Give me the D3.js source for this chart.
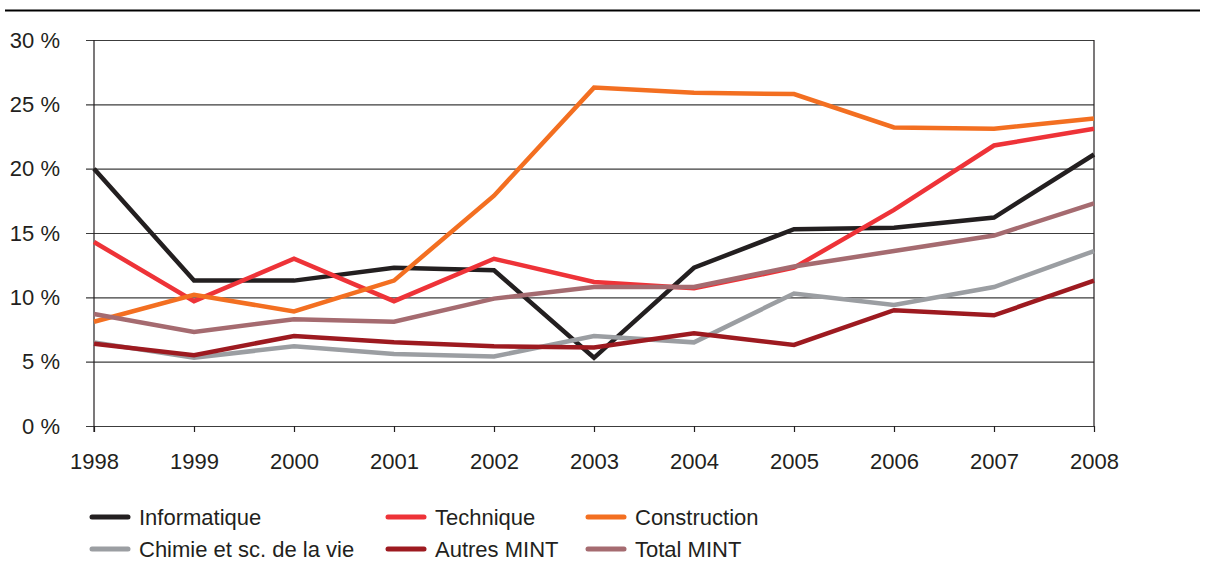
<!DOCTYPE html>
<html>
<head>
<meta charset="utf-8">
<script src="https://cdn.jsdelivr.net/npm/d3@7"></script>
<style>
  body { margin: 0; background: #fff; }
  text { font-family: "Liberation Sans", Arial, sans-serif; fill: #231f20; }
</style>
</head>
<body>
<div id="chart"></div>
<script>
// data (share in %)
const years = [1998, 1999, 2000, 2001, 2002, 2003, 2004, 2005, 2006, 2007, 2008]
const informatique = [20.0, 11.3, 11.3, 12.3, 12.1, 5.3, 12.3, 15.3, 15.4, 16.2, 21.1]
const technique    = [14.3, 9.7, 13.0, 9.7, 13.0, 11.2, 10.7, 12.3, 16.8, 21.8, 23.1]
const construction = [8.1, 10.2, 8.9, 11.3, 17.9, 26.3, 25.9, 25.8, 23.2, 23.1, 23.9]
const chimie       = [6.5, 5.3, 6.2, 5.6, 5.4, 7.0, 6.5, 10.3, 9.4, 10.8, 13.6]
const autres       = [6.4, 5.5, 7.0, 6.5, 6.2, 6.1, 7.2, 6.3, 9.0, 8.6, 11.3]
const total        = [8.7, 7.3, 8.3, 8.1, 9.9, 10.8, 10.8, 12.4, 13.6, 14.8, 17.3]
const yTicks = [0, 5, 10, 15, 20, 25, 30]

const series = [
  { name: "Informatique", values: informatique, color: "#231f20" },
  { name: "Technique", values: technique, color: "#ee3338" },
  { name: "Construction", values: construction, color: "#f36f21" },
  { name: "Chimie et sc. de la vie", values: chimie, color: "#9b9ea2" },
  { name: "Autres MINT", values: autres, color: "#9d1a20" },
  { name: "Total MINT", values: total, color: "#a56b70" }
]

const W = 1211, H = 565
const margin = { top: 40, right: 117, bottom: 139, left: 94 }
const width = W - margin.left - margin.right
const height = H - margin.top - margin.bottom
const fontSize = "22px"

const svg = d3.select("#chart").append("svg")
    .attr("width", W)
    .attr("height", H)

// rule at the top of the page
svg.append("line")
    .attr("x1", 5).attr("x2", 1200)
    .attr("y1", 10.5).attr("y2", 10.5)
    .attr("stroke", "#000").attr("stroke-width", 2.2)

const g = svg.append("g")
    .attr("transform", "translate(" + margin.left + "," + margin.top + ")")

const x = d3.scaleLinear().domain([1998, 2008]).range([0, width])
const y = d3.scaleLinear().domain([0, 30]).range([height, 0])

// horizontal grid with left ticks
const yAxis = g.append("g")
    .call(d3.axisLeft(y).tickValues(yTicks).tickSize(-width - 8).tickFormat(d => d + " %"))
    .attr("transform", "translate(-8,0)")
yAxis.select(".domain").remove()
yAxis.selectAll(".tick line")
    .attr("stroke", "#3c3c3c").attr("stroke-width", 1.2)
yAxis.selectAll(".tick text")
    .attr("x", -26)
    .style("font-size", fontSize)
    .style("font-family", "'Liberation Sans', Arial, sans-serif")
    .attr("fill", "#231f20")

// x axis ticks + labels
const xAxis = g.append("g")
    .attr("transform", "translate(0," + height + ")")
    .call(d3.axisBottom(x).tickValues(years).tickSize(6).tickFormat(d3.format("d")))
xAxis.select(".domain").remove()
xAxis.selectAll(".tick line").attr("stroke", "#231f20").attr("stroke-width", 1.2)
xAxis.selectAll(".tick text")
    .attr("y", 43)
    .attr("dy", 0)
    .style("font-size", fontSize)
    .style("font-family", "'Liberation Sans', Arial, sans-serif")
    .attr("fill", "#231f20")

// left and right frame lines
g.append("line")
    .attr("x1", 0).attr("x2", 0).attr("y1", 0).attr("y2", height + 6)
    .attr("stroke", "#231f20").attr("stroke-width", 1.2)
g.append("line")
    .attr("x1", width).attr("x2", width).attr("y1", 0).attr("y2", height)
    .attr("stroke", "#231f20").attr("stroke-width", 1.2)

const line = d3.line()
    .x((d, i) => x(years[i]))
    .y(d => y(d))

g.selectAll(".series")
    .data(series)
    .enter().append("path")
    .attr("class", "series")
    .attr("d", d => line(d.values))
    .attr("fill", "none")
    .attr("stroke", d => d.color)
    .attr("stroke-width", 4.5)
    .attr("stroke-linejoin", "miter")

// legend
const legendX = [92, 388, 588]
const legendY = [517, 549]
const legend = svg.selectAll(".legendItem")
    .data(series)
    .enter().append("g")
    .attr("class", "legendItem")
    .attr("transform", (d, i) => "translate(" + legendX[i % 3] + "," + legendY[Math.floor(i / 3)] + ")")

legend.append("line")
    .attr("x1", 0).attr("x2", 36)
    .attr("y1", 0).attr("y2", 0)
    .attr("stroke", d => d.color)
    .attr("stroke-width", 5)
    .attr("stroke-linecap", "round")

legend.append("text")
    .attr("x", 47)
    .attr("y", 8)
    .style("font-size", fontSize)
    .text(d => d.name)
</script>
</body>
</html>
